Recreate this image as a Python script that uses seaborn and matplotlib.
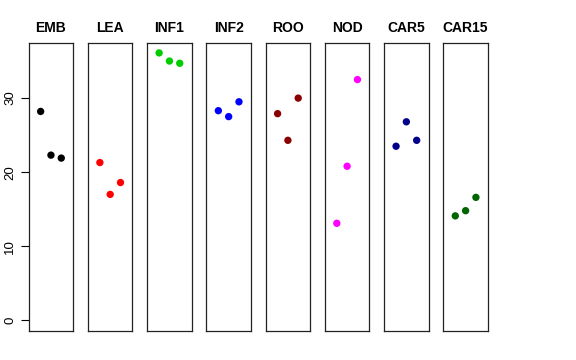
import pandas as pd
import matplotlib
matplotlib.use('Agg')
import matplotlib.pyplot as plt
import seaborn as sns

# === DATA ===
tissues = ['EMB', 'LEA', 'INF1', 'INF2', 'ROO', 'NOD', 'CAR5', 'CAR15']
colors = ['black', 'red', '#00CD00', 'blue', '#8B0000', 'magenta', '#00008B', '#006400']
rep = [1, 2, 3]
emb = [28.2, 22.3, 21.9]
lea = [21.3, 17.0, 18.6]
inf1 = [36.1, 35.0, 34.7]
inf2 = [28.3, 27.5, 29.5]
roo = [27.9, 24.3, 30.0]
nod = [13.1, 20.8, 32.5]
car5 = [23.5, 26.8, 24.3]
car15 = [14.1, 14.8, 16.6]
values = [emb, lea, inf1, inf2, roo, nod, car5, car15]

rows = []
for t, vals in zip(tissues, values):
    for r, v in zip(rep, vals):
        rows.append({'tissue': t, 'rep': r, 'value': v})
df = pd.DataFrame(rows)

# === PLOT ===
sns.set_style('white')
plt.rcParams['font.family'] = ['Liberation Sans', 'DejaVu Sans']
plt.rcParams['text.color'] = 'black'
plt.rcParams['ytick.color'] = 'black'
plt.rcParams['ytick.labelcolor'] = 'black'

fig, axes = plt.subplots(1, 8, figsize=(5.76, 3.6), dpi=100, sharey=True)
fig.subplots_adjust(left=0.0498, right=0.847, bottom=0.0806, top=0.8806, wspace=0.33)

for i, (ax, t, c) in enumerate(zip(axes, tissues, colors)):
    sub = df[df['tissue'] == t]
    sns.scatterplot(data=sub, x='rep', y='value', color=c, s=28, edgecolor='none', ax=ax, legend=False)
    ax.set_xlim(-0.16, 4.16)
    ax.set_ylim(-1.44, 37.44)
    ax.set_title(t, fontsize=10, fontweight='bold', pad=8, color='black')
    ax.set_xticks([])
    ax.set_xlabel('')
    ax.set_ylabel('')
    for sp in ax.spines.values():
        sp.set_visible(True)
        sp.set_color('#222222')
        sp.set_linewidth(0.9)
    if i == 0:
        ax.set_yticks([0, 10, 20, 30])
        ax.tick_params(axis='y', left=True, length=6, width=0.8, labelsize=9.5, pad=3)
        plt.setp(ax.get_yticklabels(), rotation=90, va='center')
    else:
        ax.tick_params(axis='y', left=False)

plt.savefig('out.png', dpi=100)
plt.close()
